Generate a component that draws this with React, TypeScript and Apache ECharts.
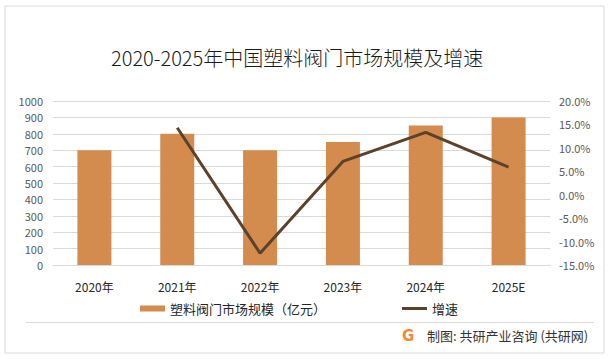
import React, { useEffect, useRef } from "react";
import * as echarts from "echarts";

const categories = ["2020年", "2021年", "2022年", "2023年", "2024年", "2025E"];
const marketSize = [700, 800, 700, 750, 850, 900];
const growthRate: (number | null)[] = [null, 14.3, -12.5, 7.1, 13.3, 5.9];
const leftTicks = { min: 0, max: 1000, interval: 100 };
const rightTicks = { min: -15, max: 20, interval: 5 };

const titleText = "2020-2025年中国塑料阀门市场规模及增速";
const barName = "塑料阀门市场规模（亿元）";
const lineName = "增速";
const sourceText = "制图: 共研产业咨询 (共研网)";

const FONT = "'Noto Sans CJK SC', 'Noto Sans', sans-serif";

export default function App() {
  const ref = useRef<HTMLDivElement>(null);
  useEffect(() => {
    if (!ref.current) return;
    const chart = echarts.init(ref.current, null, { renderer: "svg" });
    chart.setOption({
      animation: false,
      backgroundColor: "#ffffff",
      textStyle: { fontFamily: FONT },
      title: {
        text: titleText,
        left: 106,
        top: 42,
        textStyle: { fontSize: 20, fontWeight: 300, color: "#1a1a1a", fontFamily: FONT },
      },
      grid: { left: 53, right: 65, top: 101, bottom: 94, containLabel: false },
      legend: {
        left: 135,
        top: 297,
        itemGap: 76,
        itemWidth: 25,
        itemHeight: 6,
        textStyle: { fontSize: 13, color: "#262626", fontFamily: FONT },
        data: [
          { name: barName, icon: "rect" },
          { name: lineName, icon: "path://M0,0H25V3H0Z" },
        ],
      },
      xAxis: {
        type: "category",
        data: categories.map((c, i) =>
          i === categories.length - 1
            ? { value: c, textStyle: { padding: [0, 0, 6, 0] } }
            : c
        ),
        axisTick: { show: false },
        axisLine: { lineStyle: { color: "#d9d9d9", width: 1 } },
        axisLabel: { color: "#262626", fontSize: 12, margin: 15 },
      },
      yAxis: [
        {
          type: "value",
          min: leftTicks.min,
          max: leftTicks.max,
          interval: leftTicks.interval,
          axisLine: { show: false },
          axisTick: { show: false },
          axisLabel: {
            color: "#595959",
            fontSize: 11,
            margin: 10,
            formatter: (v: number) => String(v),
          },
          splitLine: { lineStyle: { color: "#d9d9d9", width: 1 } },
        },
        {
          type: "value",
          min: rightTicks.min,
          max: rightTicks.max,
          interval: rightTicks.interval,
          axisLine: { show: false },
          axisTick: { show: false },
          axisLabel: {
            color: "#595959",
            fontSize: 11,
            margin: 9,
            formatter: (v: number) => v.toFixed(1) + "%",
          },
          splitLine: { show: false },
        },
      ],
      series: [
        {
          name: barName,
          type: "bar",
          data: marketSize,
          barWidth: 34,
          itemStyle: { color: "#d38b4e" },
        },
        {
          name: lineName,
          type: "line",
          yAxisIndex: 1,
          data: growthRate,
          symbol: "none",
          lineStyle: { color: "#5c412b", width: 3 },
          itemStyle: { color: "#5c412b" },
        },
      ],
      graphic: [
        {
          type: "rect",
          shape: { x: 5, y: 6, width: 599, height: 347 },
          style: { fill: "none", stroke: "#d9d9d9", lineWidth: 1 },
          silent: true,
        },
        {
          type: "line",
          shape: { x1: 26, y1: 322.5, x2: 594, y2: 322.5 },
          style: { stroke: "#d9d9d9", lineWidth: 1 },
          silent: true,
        },
        {
          type: "text",
          x: 402,
          y: 328,
          style: {
            text: "G",
            fontSize: 15,
            fontWeight: "bold",
            fill: "#f08a3a",
            fontFamily: "'DejaVu Sans', sans-serif",
          },
          silent: true,
        },
        {
          type: "text",
          x: 427,
          y: 329,
          style: {
            text: sourceText,
            fontSize: 13,
            fontWeight: "normal",
            fill: "#333333",
            fontFamily: FONT,
          },
          silent: true,
        },
      ],
    });
    return () => chart.dispose();
  }, []);
  return (
    <div
      ref={ref}
      style={{ position: "fixed", left: 0, top: 0, width: 615, height: 359 }}
    />
  );
}
